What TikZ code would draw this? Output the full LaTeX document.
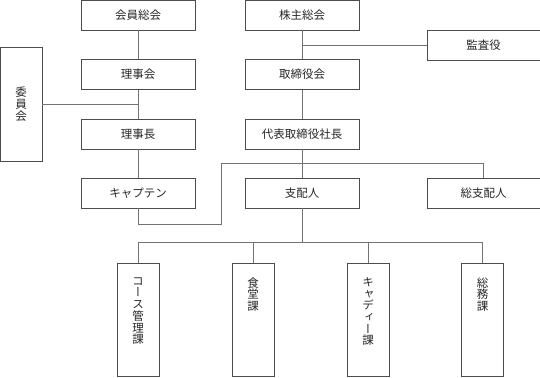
\documentclass[tikz,border=0pt]{standalone}
\usepackage{fontspec}
\newfontfamily\jpfont{Noto Sans CJK JP}
\newfontfamily\jpvert[RawFeature=+vert]{Noto Sans CJK JP}
\usetikzlibrary{calc,positioning}

\begin{document}
\begin{tikzpicture}[
    x=1pt, y=-1pt,
    box/.style={draw=black!70, line width=0.7pt, minimum width=114pt, minimum height=30pt,
        inner sep=0pt, font=\jpfont\fontsize{11.5}{11.7}\selectfont, text=black!85},
    sidebox/.style={box, minimum width=42pt, minimum height=114pt, align=center,
        font=\jpvert\fontsize{11.5}{11.7}\selectfont},
    unitbox/.style={box, minimum width=42pt, minimum height=113pt,
        font=\jpvert\fontsize{11.5}{11.7}\selectfont},
    link/.style={draw=black!55, line width=0.8pt}
]
\newcommand{\tatebox}[1]{\parbox[c][84pt][t]{14pt}{\centering #1}}

\useasboundingbox (0,0) rectangle (540,377);

% Left column: club side
\node[box] (kaiin) at (138,15) {会員総会};
\node[box] (riji) at (138,74.5) {理事会};
\node[box] (rijicho) at (138,134) {理事長};
\node[box] (captain) at (138,193) {キャプテン};
\node[sidebox] (iin) at (21,104) {委\\員\\会};

% Right column: company side
\node[box] (kabu) at (302,15) {株主総会};
\node[box, minimum width=113pt] (kansa) at (483.5,45) {監査役};
\node[box] (torishimari) at (302,74.5) {取締役会};
\node[box] (shacho) at (302,134) {代表取締役社長};
\node[box] (shihai) at (302,193) {支配人};
\node[box, minimum width=113pt] (soushihai) at (483.5,193) {総支配人};

% Sections
\node[unitbox] (course) at (138,319.5) {\tatebox{コ\\ー\\ス\\管\\理\\課}};
\node[unitbox] (shokudo) at (253,319.5) {\tatebox{食\\堂\\課}};
\node[unitbox] (caddie) at (368,319.5) {\tatebox{キ\\ャ\\デ\\ィ\\ー\\課}};
\node[unitbox] (soumu) at (482.5,319.5) {\tatebox{総\\務\\課}};

% Helper points
\coordinate (capjoin) at (221,224);
\coordinate (topjoin) at (221,163);
\coordinate (bus) at (302,242);

% Connectors
\draw[link] (kaiin) -- (riji);
\draw[link] (riji) -- (rijicho);
\draw[link] (iin.east) -- (iin.east -| riji.south);
\draw[link] (rijicho) -- (captain);
\draw[link] (kabu) -- (torishimari);
\draw[link] (kansa.west) -- (kansa.west -| kabu.south);
\draw[link] (torishimari) -- (shacho);
\draw[link] (shacho) -- (shihai);
\draw[link] (captain.south) |- (capjoin) -- (topjoin) -| (soushihai.north);
\draw[link] (shihai) -- (bus);
\draw[link] (course.north) |- (soumu.north |- bus) -- (soumu.north);
\foreach \u in {shokudo,caddie}
    \draw[link] (\u.north) -- (\u.north |- bus);

\end{tikzpicture}
\end{document}
